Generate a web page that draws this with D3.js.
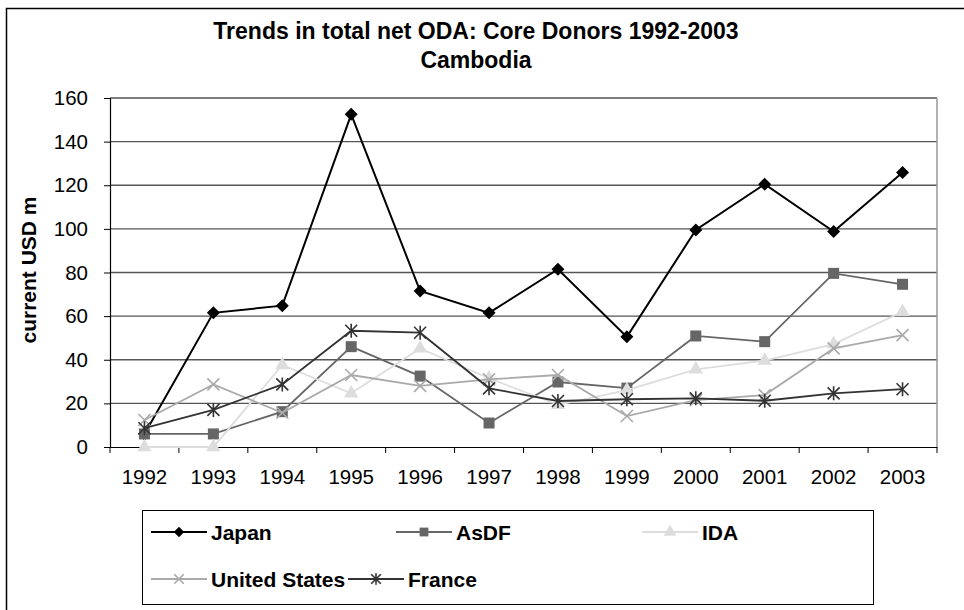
<!DOCTYPE html>
<html>
<head>
<meta charset="utf-8">
<script src="https://cdn.jsdelivr.net/npm/d3@7"></script>
<style>
  body { margin: 0; background: #fff; }
  text { font-family: "Liberation Sans", Arial, sans-serif; }
</style>
</head>
<body>
<div id="chart"></div>
<script>
const years = ["1992","1993","1994","1995","1996","1997","1998","1999","2000","2001","2002","2003"];
const japan = [6, 61.5, 64.8, 152.5, 71.5, 61.5, 81.5, 50.5, 99.5, 120.5, 98.8, 125.8];
const asdf = [6, 6, 16.2, 46, 32.5, 11, 29.8, 27, 50.9, 48.3, 79.6, 74.6];
const ida = [0, 0, 37.6, 24.6, 45.2, 31.5, 19.3, 26.1, 35.6, 39.6, 47.2, 62];
const usa = [12.4, 28.7, 15.7, 33, 28, 31, 33, 14.2, 21.5, 23.8, 45.2, 51.3];
const france = [8.6, 17, 28.7, 53.3, 52.4, 26.9, 21.1, 21.9, 22.3, 21.2, 24.6, 26.5];
const yTicks = [0, 20, 40, 60, 80, 100, 120, 140, 160];

const W = 964, H = 610;
const plot = {left: 110, right: 937, top: 98, bottom: 447};

const series = [
    {name: "Japan", values: japan, color: "#000000", marker: "diamond", width: 2},
    {name: "AsDF", values: asdf, color: "#666666", marker: "square", width: 1.8},
    {name: "IDA", values: ida, color: "#dddddd", marker: "triangle", width: 1.8},
    {name: "United States", values: usa, color: "#aaaaaa", marker: "x", width: 1.8},
    {name: "France", values: france, color: "#333333", marker: "star", width: 1.8}
];

const svg = d3.select("#chart").append("svg")
    .attr("width", W)
    .attr("height", H);

// outer frame (right and bottom edges fall outside the picture)
svg.append("path")
    .attr("d", "M6.5,610 V8.5 H970")
    .attr("fill", "none")
    .attr("stroke", "#000")
    .attr("stroke-width", 1.5);

// title
svg.append("text")
    .attr("x", 476).attr("y", 39)
    .attr("text-anchor", "middle")
    .attr("font-size", 23).attr("font-weight", "bold")
    .text("Trends in total net ODA: Core Donors 1992-2003");
svg.append("text")
    .attr("x", 476).attr("y", 68)
    .attr("text-anchor", "middle")
    .attr("font-size", 23).attr("font-weight", "bold")
    .text("Cambodia");

const x = d3.scaleBand().domain(years).range([plot.left, plot.right]);
const y = d3.scaleLinear().domain([0, 160]).range([plot.bottom, plot.top]);

// gridlines
svg.append("g")
    .selectAll("line")
    .data(yTicks.filter(d => d > 0))
    .enter().append("line")
    .attr("x1", plot.left).attr("x2", plot.right)
    .attr("y1", d => y(d)).attr("y2", d => y(d))
    .attr("stroke", "#555")
    .attr("stroke-width", 1.3);

// right border of plot area
svg.append("line")
    .attr("x1", plot.right).attr("x2", plot.right)
    .attr("y1", plot.top).attr("y2", plot.bottom)
    .attr("stroke", "#999")
    .attr("stroke-width", 1.5);

// y axis
const yAxis = svg.append("g")
    .attr("transform", `translate(${plot.left},0)`)
    .call(d3.axisLeft(y).tickValues(yTicks).tickSize(6).tickPadding(16));
yAxis.select(".domain").attr("stroke", "#000").attr("stroke-width", 1.2);
yAxis.selectAll(".tick line").attr("stroke", "#000");
yAxis.selectAll(".tick text")
    .attr("font-size", 20.5)
    .attr("font-family", "Liberation Sans, Arial, sans-serif")
    .attr("fill", "#000");

// x axis with ticks between categories
const xAxis = svg.append("g")
    .attr("transform", `translate(0,${plot.bottom})`)
    .call(d3.axisBottom(x).tickSize(0).tickPadding(22));
xAxis.select(".domain").attr("stroke", "#000").attr("stroke-width", 1.2);
xAxis.selectAll(".tick text")
    .attr("font-size", 20.5)
    .attr("font-family", "Liberation Sans, Arial, sans-serif")
    .attr("fill", "#000");
xAxis.selectAll(".sep")
    .data(years.concat(["end"]))
    .enter().append("line")
    .attr("class", "sep")
    .attr("x1", (d, i) => plot.left + i * x.step())
    .attr("x2", (d, i) => plot.left + i * x.step())
    .attr("y1", 0).attr("y2", 6)
    .attr("stroke", "#000");

// y axis title
svg.append("text")
    .attr("transform", "translate(36,270) rotate(-90)")
    .attr("text-anchor", "middle")
    .attr("font-size", 21).attr("font-weight", "bold")
    .text("current USD m");

// marker drawing
function drawMarker(g, type, color, s) {
    s = s || 1;
    if (type === "diamond") {
        const r = 6.5 * s;
        g.append("path").attr("d", `M0,${-r}L${r},0L0,${r}L${-r},0Z`)
            .attr("fill", color);
    } else if (type === "square") {
        g.append("rect").attr("x", -5.5 * s).attr("y", -5.5 * s)
            .attr("width", 11 * s).attr("height", 11 * s)
            .attr("fill", color);
    } else if (type === "triangle") {
        g.append("path").attr("d", d3.symbol(d3.symbolTriangle, 90 * s)())
            .attr("fill", color);
    } else if (type === "x") {
        const r = 6 * s;
        g.append("path").attr("d", `M${-r},${-r}L${r},${r}M${-r},${r}L${r},${-r}`)
            .attr("stroke", color).attr("stroke-width", 1.6).attr("fill", "none");
    } else if (type === "star") {
        const r = 6 * s;
        g.append("path").attr("d", `M${-r},${-r}L${r},${r}M${-r},${r}L${r},${-r}M0,${-r - 1}V${r + 1}`)
            .attr("stroke", color).attr("stroke-width", 1.6).attr("fill", "none");
    }
}

const line = d3.line()
    .x((d, i) => x(years[i]) + x.bandwidth() / 2)
    .y(d => y(d));

series.forEach(s => {
    const g = svg.append("g");
    g.append("path")
        .attr("d", line(s.values))
        .attr("fill", "none")
        .attr("stroke", s.color)
        .attr("stroke-width", s.width);
    s.values.forEach((v, i) => {
        const m = g.append("g")
            .attr("transform", `translate(${x(years[i]) + x.bandwidth() / 2},${y(v)})`);
        drawMarker(m, s.marker, s.color);
    });
});

// legend
const legend = svg.append("g");
legend.append("rect")
    .attr("x", 142.5).attr("y", 510.5)
    .attr("width", 731).attr("height", 94)
    .attr("fill", "#fff")
    .attr("stroke", "#000")
    .attr("stroke-width", 1);

const legendPos = [
    {x: 151, y: 532}, {x: 396, y: 532}, {x: 642, y: 532},
    {x: 151, y: 579}, {x: 348, y: 579}
];
series.forEach((s, i) => {
    const p = legendPos[i];
    const g = legend.append("g").attr("transform", `translate(${p.x},${p.y})`);
    g.append("line").attr("x1", 0).attr("x2", 56)
        .attr("stroke", s.color).attr("stroke-width", s.width);
    const m = g.append("g").attr("transform", "translate(28,0)");
    drawMarker(m, s.marker, s.color, 0.8);
    g.append("text")
        .attr("x", 60).attr("y", 7.5)
        .attr("font-size", 21).attr("font-weight", "bold")
        .text(s.name);
});
</script>
</body>
</html>
